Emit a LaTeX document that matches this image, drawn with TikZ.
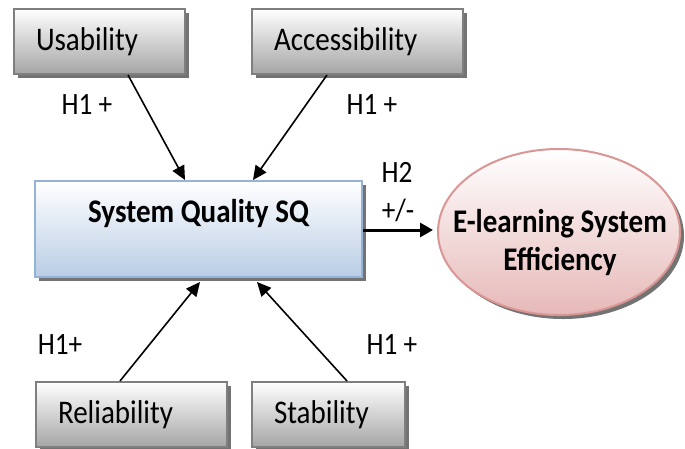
\documentclass[tikz,border=0pt]{standalone}
\usepackage{fontspec}
\setmainfont{Carlito}[FakeStretch=0.88]
\usepackage{tikz}
\usetikzlibrary{arrows.meta,positioning,calc,shapes.geometric,shadows}
\definecolor{szkeret}{HTML}{7F7F7F}
\definecolor{szalj}{HTML}{A5A5A5}
\definecolor{kkeret}{HTML}{95B3D7}
\definecolor{kalj}{HTML}{B9CDE5}
\definecolor{rkeret}{HTML}{D99694}
\definecolor{ralj}{HTML}{E6B9B8}
\tikzset{
  arny/.style={drop shadow={shadow xshift=4pt,shadow yshift=-4pt,fill=black!55,opacity=1}},
  szurke/.style={draw=szkeret,line width=2pt,top color=white,bottom color=szalj,arny,
    minimum height=65pt,inner xsep=22pt,text width=#1,align=left,font=\fontsize{33}{36}\selectfont},
  kek/.style={draw=kkeret,line width=2pt,top color=white,bottom color=kalj,arny,
    minimum width=327pt,minimum height=96pt,text height=23pt,text depth=37pt,
    font=\fontsize{33}{36}\selectfont\bfseries},
  rozsa/.style={ellipse,draw=rkeret,line width=2pt,top color=white,bottom color=ralj,arny,
    minimum width=242pt,minimum height=166pt,inner sep=0pt},
  rszoveg/.style={align=center,inner sep=0pt,font=\fontsize{33}{38}\selectfont\bfseries},
  cimke/.style={font=\fontsize{31}{34}\selectfont,inner sep=0pt},
  mut/.style={line width=1.6pt,-{Triangle[length=14pt,width=13pt]}},
  vmut/.style={line width=3pt,-{Triangle[length=13pt,width=14pt]}},
}
\begin{document}
\begin{tikzpicture}[x=1pt,y=-1pt]
  \useasboundingbox (0,0) rectangle (685,448);
  % tényezők
  \node[szurke=127pt] (us) at (99.5,41.5) {Usability};
  \node[szurke=167pt] (ac) at (357.5,41.5) {Accessibility};
  \node[szurke=147pt] (re) at (131.5,414.5) {Reliability};
  \node[szurke=109pt] (st) at (328.5,414.5) {Stability};
  % közép és cél
  \node[kek] (sq) at (198.5,229) {System Quality SQ};
  \node[rozsa] (el) at (559,232) {};
  \node[rszoveg] (elt) at (560,243) {E-learning System\\Efficiency};
  % nyilak
  \draw[mut] ([xshift=28.5pt]us.south) -- ([xshift=-13.5pt]sq.north);
  \draw[mut] ([xshift=-30.5pt]ac.south) -- ([xshift=54.5pt]sq.north);
  \draw[mut] ([xshift=-11.5pt]re.north) -- ([xshift=1.5pt,yshift=-4pt]sq.south);
  \draw[mut] ([xshift=18.5pt]st.north) -- ([xshift=58.5pt,yshift=-4pt]sq.south);
  \draw[vmut,shorten >=4pt] ([yshift=-1pt]sq.east) -- ([yshift=-1pt]sq.east -| el.west);
  % hipotézisek
  \node[cimke] (h1a) at (87,105) {H1 +};
  \node[cimke] (h1b) at (372,105) {H1 +};
  \node[cimke] (h2) at (397,172) {H2};
  \node[cimke] (h2j) at (398,210) {+/-};
  \node[cimke] (h1c) at (60,345) {H1+};
  \node[cimke] (h1d) at (392,345) {H1 +};
\end{tikzpicture}
\end{document}
